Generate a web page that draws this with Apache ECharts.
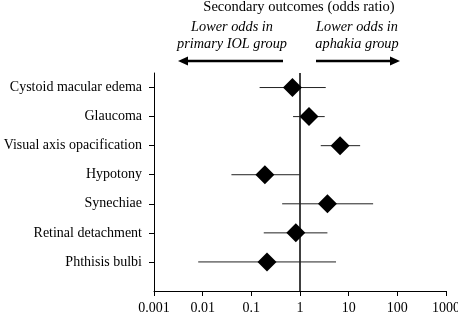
<!DOCTYPE html>
<html>
<head>
<meta charset="utf-8">
<script src="https://cdn.jsdelivr.net/npm/echarts/dist/echarts.min.js"></script>
<style>
  html, body { margin: 0; padding: 0; background: #fff; }
  #main { width: 458px; height: 314px; }
</style>
</head>
<body>
<div id="main"></div>
<script>
// secondary outcomes, top to bottom
const outcomes = ["Cystoid macular edema", "Glaucoma", "Visual axis opacification", "Hypotony", "Synechiae", "Retinal detachment", "Phthisis bulbi"];
const oddsRatio = [0.70, 1.53, 6.65, 0.19, 3.66, 0.82, 0.21];
const ciLow = [0.148, 0.72, 2.67, 0.039, 0.43, 0.18, 0.0081];
const ciHigh = [3.38, 3.22, 17.2, 0.99, 31.8, 3.66, 5.5];
const xTicks = ["0.001", "0.01", "0.1", "1", "10", "100", "1000"];

const font = "Liberation Serif";
const n = outcomes.length;
const rows = outcomes.map((o, i) => n - i); // 7 .. 1

var chart = echarts.init(document.getElementById("main"));

var option = {
  animation: false,
  textStyle: { fontFamily: font, color: "#000" },
  grid: { left: 154, right: 12, top: 73, bottom: 23, outerBoundsMode: "none", containLabel: false },
  xAxis: {
    type: "log",
    logBase: 10,
    min: 0.001,
    max: 1000,
    axisLine: { lineStyle: { color: "#000", width: 1 } },
    axisTick: { length: 5, lineStyle: { color: "#000" } },
    splitLine: { show: false },
    axisLabel: {
      fontFamily: font,
      fontSize: 14,
      color: "#000",
      margin: 10,
      formatter: function (v) {
        let k = Math.round(Math.log10(v)) + 3;
        return xTicks[k] || "";
      },
    },
  },
  yAxis: {
    type: "value",
    min: 0,
    max: 7.5,
    axisLine: { show: true, lineStyle: { color: "#000", width: 1 } },
    axisTick: { show: true, length: 5, customValues: rows, lineStyle: { color: "#000" } },
    splitLine: { show: false },
    axisLabel: {
      customValues: rows,
      fontFamily: font,
      fontSize: 14,
      color: "#000",
      margin: 12,
      formatter: function (v) {
        return outcomes[n - v] || "";
      },
    },
  },
  series: [
    {
      // no-effect line at odds ratio 1
      type: "line",
      data: [[1, 0], [1, 7.5]],
      symbol: "none",
      lineStyle: { color: "#000", width: 1.5 },
      z: 1,
    },
    {
      type: "custom",
      data: outcomes.map((o, i) => [ciLow[i], ciHigh[i], rows[i]]),
      encode: { x: [0, 1], y: 2 },
      renderItem: function (params, api) {
        let a = api.coord([api.value(0), api.value(2)]);
        let b = api.coord([api.value(1), api.value(2)]);
        return {
          type: "line",
          shape: { x1: a[0], y1: a[1], x2: b[0], y2: b[1] },
          style: { stroke: "#222", lineWidth: 1 },
        };
      },
      z: 2,
    },
    {
      type: "scatter",
      data: outcomes.map((o, i) => [oddsRatio[i], rows[i]]),
      symbol: "diamond",
      symbolSize: [19, 19],
      itemStyle: { color: "#000", opacity: 1 },
      z: 3,
    },
  ],
  graphic: [
    {
      type: "text",
      x: 299,
      y: 0,
      style: { text: "Secondary outcomes (odds ratio)", font: "14.5px " + font, fill: "#000", align: "center" },
    },
    {
      type: "text",
      x: 232,
      y: 19,
      style: {
        text: "Lower odds in\nprimary IOL group",
        font: "italic 14.3px " + font,
        fill: "#000",
        align: "center",
        lineHeight: 17,
      },
    },
    {
      type: "text",
      x: 357,
      y: 19,
      style: {
        text: "Lower odds in\naphakia group",
        font: "italic 14.3px " + font,
        fill: "#000",
        align: "center",
        lineHeight: 17,
      },
    },
    { type: "line", shape: { x1: 283, y1: 61, x2: 186, y2: 61 }, style: { stroke: "#000", lineWidth: 2.5 } },
    { type: "polygon", shape: { points: [[178, 61], [188, 56.5], [188, 65.5]] }, style: { fill: "#000" } },
    { type: "line", shape: { x1: 316, y1: 61, x2: 392, y2: 61 }, style: { stroke: "#000", lineWidth: 2.5 } },
    { type: "polygon", shape: { points: [[400, 61], [390, 56.5], [390, 65.5]] }, style: { fill: "#000" } },
  ],
};

chart.setOption(option);
</script>
</body>
</html>
